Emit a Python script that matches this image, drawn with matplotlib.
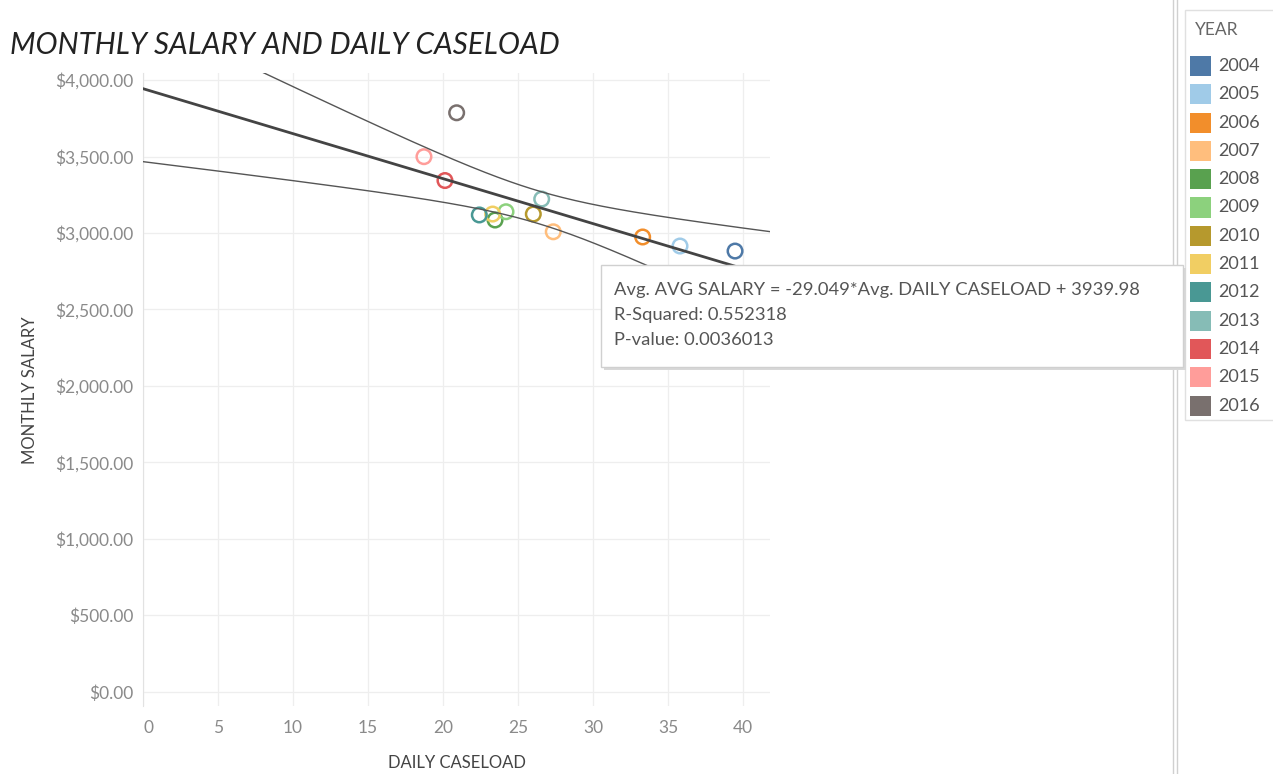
import numpy as np
import matplotlib
matplotlib.use("Agg")
import matplotlib.pyplot as plt
import matplotlib.transforms as mtransforms
from matplotlib.patches import Rectangle
from matplotlib.lines import Line2D

plt.rcParams['font.family'] = ['Lato', 'DejaVu Sans']

# ---- data ----
years = ["2004", "2005", "2006", "2007", "2008", "2009", "2010",
         "2011", "2012", "2013", "2014", "2015", "2016"]
daily_caseload = [39.47, 35.8, 33.31, 27.35, 23.47, 24.2, 26.02,
                  23.31, 22.42, 26.58, 20.13, 18.73, 20.91]
monthly_salary = [2882, 2915, 2974, 3008, 3085, 3139, 3124,
                  3124, 3118, 3222, 3343, 3499, 3786]
colors = ["#4E79A7", "#A0CBE8", "#F28E2B", "#FFBE7D", "#59A14F", "#8CD17D",
          "#B6992D", "#F1CE63", "#499894", "#86BCB6", "#E15759", "#FF9D9A",
          "#79706E"]
x_ticks = [0, 5, 10, 15, 20, 25, 30, 35, 40]
y_ticks = [0, 500, 1000, 1500, 2000, 2500, 3000, 3500, 4000]
tooltip_lines = ["Avg. AVG SALARY = -29.049*Avg. DAILY CASELOAD + 3939.98",
                 "R-Squared: 0.552318",
                 "P-value: 0.0036013"]
T_CRIT = 2.201  # t(0.975, df=11)

W, H = 1273, 774
fig = plt.figure(figsize=(W / 100, H / 100), dpi=100)
fig.patch.set_facecolor("white")

def fx(px):
    return px / W

def fy(py):
    return 1 - py / H

ax = fig.add_axes([fx(143), fy(706), fx(770) - fx(143), fy(73) - fy(706)])
XMIN, XMAX = 0.0, 41.8
ax.set_xlim(XMIN, XMAX)
ax.set_ylim(-92, 4046)

x = np.array(daily_caseload)
y = np.array(monthly_salary)

# regression + 95% confidence band
slope, intercept = np.polyfit(x, y, 1)
n = len(x)
xbar = x.mean()
sxx = ((x - xbar) ** 2).sum()
resid = y - (slope * x + intercept)
s = np.sqrt((resid ** 2).sum() / (n - 2))
xs = np.linspace(XMIN, XMAX, 300)
yfit = slope * xs + intercept
half = T_CRIT * s * np.sqrt(1 / n + (xs - xbar) ** 2 / sxx)

ax.plot(xs, yfit + half, color="#555555", lw=1.0, zorder=4)
ax.plot(xs, yfit - half, color="#555555", lw=1.0, zorder=4)
ax.plot(xs, yfit, color="#444444", lw=2.0, zorder=4)

for xi, yi, c in zip(daily_caseload, monthly_salary, colors):
    ax.scatter(xi, yi, s=110, facecolors="none", edgecolors=c,
               linewidths=1.8, zorder=3)

ax.set_xticks(x_ticks)
ax.set_yticks(y_ticks)
ax.set_yticklabels(["${:,.2f}".format(v) for v in y_ticks])
ax.grid(True, color="#eeeeee", lw=0.9)
ax.set_axisbelow(True)
ax.tick_params(length=0, colors="#8a8a8a", labelsize=12.5)
ax.tick_params(axis="y", pad=7)
ax.tick_params(axis="x", pad=10)
for sp in ["top", "right", "bottom"]:
    ax.spines[sp].set_visible(False)
ax.spines["left"].set_color("#e2e2e2")
fig.canvas.draw()
first = ax.get_xticklabels()[0]
first.set_transform(first.get_transform() +
                    mtransforms.ScaledTranslation(6 / 100, 0, fig.dpi_scale_trans))

ax.set_xlabel("DAILY CASELOAD", color="#444444", fontsize=12, labelpad=14)
fig.text(fx(30), fy(390), "MONTHLY SALARY", rotation=90, color="#444444",
         fontsize=12, ha="center", va="center")

fig.text(fx(10), fy(45), "MONTHLY SALARY AND DAILY CASELOAD", fontsize=21.3,
         style="italic", color="#222222", ha="left", va="center")

# tooltip
shadow = Rectangle((fx(604), fy(370)), fx(582), fy(265) - fy(367),
                   transform=fig.transFigure, facecolor="#d8d8d8",
                   edgecolor="none", zorder=9)
box = Rectangle((fx(601), fy(367)), fx(582), fy(265) - fy(367),
                transform=fig.transFigure, facecolor="white",
                edgecolor="#d0d0d0", lw=1, zorder=10)
fig.patches.extend([shadow, box])
for i, t in enumerate(tooltip_lines):
    fig.text(fx(614), fy(290 + 25 * i), t, fontsize=13.2, color="#555555",
             ha="left", va="center", zorder=11)

# right-side separator and legend
for px in (1173, 1177):
    fig.add_artist(Line2D([fx(px), fx(px)], [0, 1], transform=fig.transFigure,
                          color="#d0d0d0", lw=1))
leg_box = Rectangle((fx(1185), fy(420)), fx(100), fy(10) - fy(420),
                    transform=fig.transFigure, facecolor="white",
                    edgecolor="#e0e0e0", lw=1, zorder=1)
fig.patches.append(leg_box)
fig.text(fx(1195), fy(30), "YEAR", fontsize=12.5, color="#666666",
         ha="left", va="center", zorder=2)
for i, (yr, c) in enumerate(zip(years, colors)):
    cy = 66 + 28.3 * i
    sq = Rectangle((fx(1190), fy(cy + 10)), fx(21), fy(cy - 10) - fy(cy + 10),
                   transform=fig.transFigure, facecolor=c, edgecolor="none",
                   zorder=2)
    fig.patches.append(sq)
    fig.text(fx(1218), fy(cy), yr, fontsize=13, color="#555555",
             ha="left", va="center", zorder=2)

fig.savefig("out.png", dpi=100)
